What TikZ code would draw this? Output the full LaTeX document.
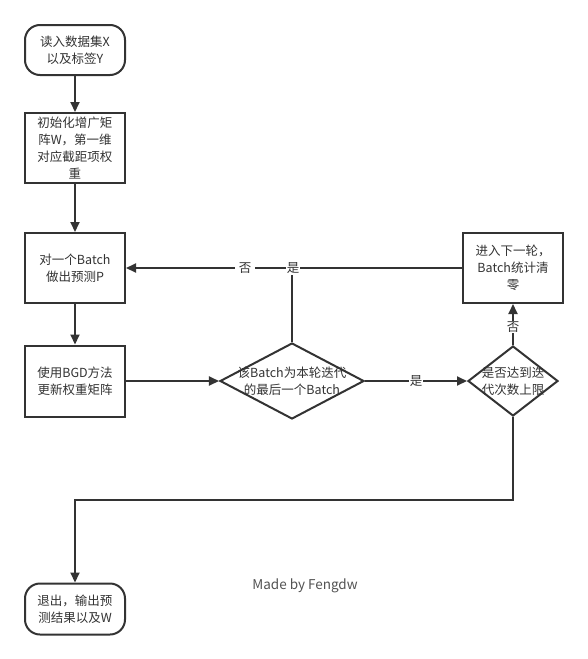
\documentclass[tikz,border=0pt]{standalone}
\usepackage{fontspec}
\setmainfont{Noto Sans CJK SC}
\usetikzlibrary{arrows.meta,shapes.geometric}
\definecolor{ink}{HTML}{333333}
\definecolor{txt}{HTML}{333333}
\begin{document}
\begin{tikzpicture}[x=1pt,y=-1pt,
  every node/.style={font=\fontsize{12.5}{17}\selectfont, text=txt, align=center, inner sep=0pt},
  proc/.style={draw=ink, line width=2pt, minimum width=100pt, fill=white},
  term/.style={proc, rounded corners=15pt},
  dec/.style={draw=ink, line width=2pt, diamond, fill=white},
  conn/.style={draw=ink, line width=2pt},
  arr/.style={conn, -{Triangle[length=10pt,width=9pt]}},
  lbl/.style={fill=white, inner sep=1pt}]
\useasboundingbox (0,0) rectangle (588,659);
\node[term, minimum height=50pt] (start) at (75,50) {读入数据集X\\以及标签Y};
\node[proc, minimum height=70pt] (init) at (75,148) {初始化增广矩\\阵W，第一维\\对应截距项权\\重};
\node[proc, minimum height=70pt] (pred) at (75,268) {对一个Batch\\做出预测P};
\node[proc, minimum height=71pt] (bgd) at (75,381) {使用BGD方法\\更新权重矩阵};
\node[dec, minimum width=144pt, minimum height=76pt] (d1) at (292,381) {};
\node at (292,381) {该Batch为本轮迭代\\的最后一个Batch};
\node[dec, minimum width=90pt, minimum height=70pt] (d2) at (513,381) {};
\node at (513,381) {是否达到迭\\代次数上限};
\node[proc, minimum height=70pt] (next) at (513,268) {进入下一轮，\\Batch统计清\\零};
\node[term, minimum height=51pt] (exit) at (75,609) {退出，输出预\\测结果以及W};
\coordinate (bend) at (513,500);
\coordinate (up) at (292,268);

\draw[arr] (start) -- (init);
\draw[arr] (init) -- (pred);
\draw[arr] (pred) -- (bgd);
\draw[arr] (bgd) -- (d1);
\draw[arr] (d1) -- node[lbl] (ly) {是} (d2);
\draw[arr] (d2) -- (next);
\node[lbl] (ln) at (513,327) {否};
\draw[arr] (next) -- (pred);
\draw[conn] (d1.north) -- (up);
\node[lbl, inner xsep=4pt] (lno) at (245,268) {否};
\node[lbl] (lyes) at (293,268) {是};
\draw[arr] (d2.south) -- (bend) -| (exit.north);
\node[font=\fontsize{13.5}{15}\selectfont, text=ink!85] (credit) at (305,586) {Made by Fengdw};
\end{tikzpicture}
\end{document}
